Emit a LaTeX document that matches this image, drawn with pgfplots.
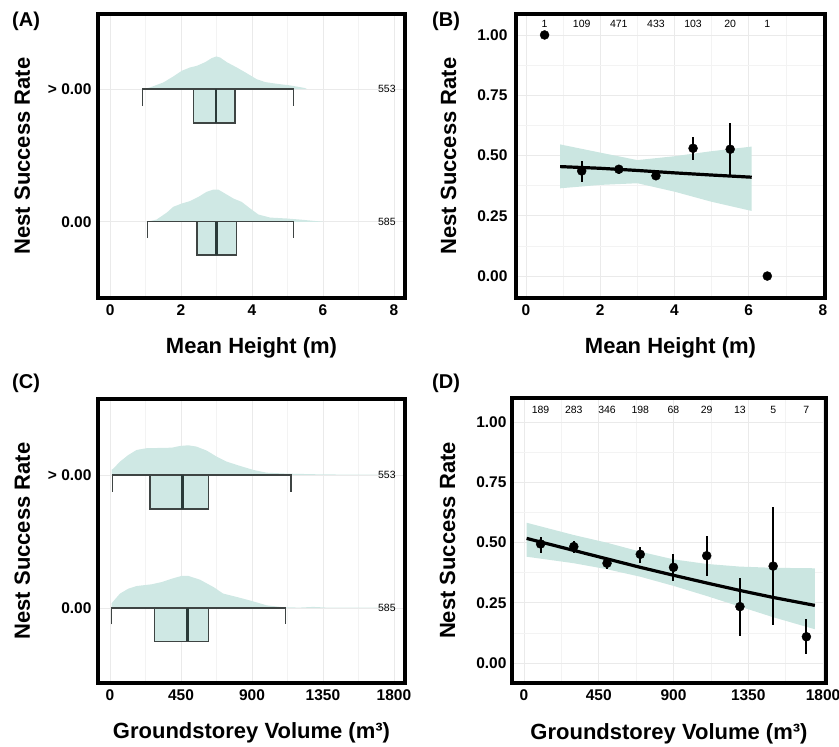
\documentclass[border=0pt]{standalone}
\usepackage{fontspec}
\setmainfont{Liberation Sans}
\usepackage{pgfplots}
\pgfplotsset{compat=1.18}

\definecolor{cloud}{HTML}{CFE8E4}
\definecolor{ribbon}{HTML}{CBE6E1}
\definecolor{boxline}{HTML}{3E4443}
\definecolor{medline}{HTML}{2A3A38}
\definecolor{gmaj}{HTML}{EAEAEA}
\definecolor{gmin}{HTML}{F3F3F3}

\newcommand{\ticksize}{\fontsize{15.5}{16}\selectfont\bfseries}
\newcommand{\labsize}{\fontsize{22}{24}\selectfont\bfseries}
\newcommand{\cntsize}{\fontsize{10.5}{12}\selectfont}
\newcommand{\tagsize}{\fontsize{20}{22}\selectfont\bfseries}

\pgfplotsset{
  panel/.style={
    scale only axis,
    axis line style={line width=4pt, black},
    major tick length=0pt, minor tick length=0pt,
    tick label style={font=\ticksize},
    major grid style={gmaj, line width=0.8pt},
    minor grid style={gmin, line width=0.6pt},
    label style={font=\labsize},
    xticklabel style={yshift=-3pt},
    clip=true,
  },
  whisk/.style={boxline, line width=1.3pt, line join=miter},
  boxp/.style={boxline, line width=1.3pt, fill=cloud, line join=miter},
  med/.style={medline, line width=2.6pt},
  fit/.style={black, line width=3.2pt},
  pts/.style={only marks, mark=*, mark size=4.5pt, black},
  errpts/.style={pts, error bars/.cd, y dir=both, y explicit,
    error bar style={line width=2pt, black}, error mark=none},
}

\begin{document}
\begin{tikzpicture}
\useasboundingbox (0,0) rectangle (839pt,747pt);

% (A) raincloud, mean height
\begin{axis}[panel, at={(98pt,449pt)}, width=307pt, height=284pt,
  xmin=-0.34, xmax=8.31, ymin=0.426, ymax=2.566,
  xtick={0,2,4,6,8}, xticklabels={0,2,4,6,8},
  minor xtick={1,3,5,7},
  ytick={1,2}, yticklabels={0.00,> 0.00},
  yticklabel style={xshift=-3pt},
  xmajorgrids, xminorgrids, ymajorgrids,
  xlabel={Mean Height (m)}, ylabel={Nest Success Rate},
  xlabel style={at={(rel axis cs:0.5,-0.197)}, anchor=base},
  ylabel style={at={(rel axis cs:-0.2215,0.5)}, anchor=base},
]
\addplot[draw=none, fill=cloud] coordinates {
  (0.91,2)(1.13,2.013)(1.50,2.050)(1.78,2.095)(2.02,2.138)(2.25,2.163)
  (2.44,2.175)(2.68,2.203)(2.86,2.233)(2.99,2.246)(3.10,2.238)(3.29,2.203)
  (3.57,2.163)(3.85,2.120)(4.13,2.075)(4.37,2.053)(4.70,2.040)(5.07,2.028)
  (5.35,2.015)(5.49,2.008)(5.55,2)};
\addplot[draw=none, fill=cloud] coordinates {
  (1.03,1)(1.31,1.017)(1.60,1.070)(1.78,1.113)(2.02,1.138)(2.25,1.156)
  (2.49,1.188)(2.72,1.226)(2.91,1.243)(3.05,1.243)(3.24,1.213)(3.48,1.175)
  (3.71,1.150)(3.95,1.100)(4.18,1.055)(4.51,1.032)(4.98,1.025)(5.35,1.017)
  (5.82,1.005)(6.00,1)};
\addplot[whisk] coordinates {(0.91,1.872)(0.91,2)(5.16,2)(5.16,1.872)};
\addplot[boxp] coordinates {(2.35,2)(3.52,2)(3.52,1.744)(2.35,1.744)} -- cycle;
\addplot[med] coordinates {(2.99,2)(2.99,1.744)};
\addplot[whisk] coordinates {(1.05,0.877)(1.05,1)(5.16,1)(5.16,0.877)};
\addplot[boxp] coordinates {(2.45,1)(3.56,1)(3.56,0.75)(2.45,0.75)} -- cycle;
\addplot[med] coordinates {(3.00,1)(3.00,0.75)};
\node[font=\cntsize] at (axis cs:7.8,2) {553};
\node[font=\cntsize] at (axis cs:7.8,1) {585};
\end{axis}

% (B) binned success, mean height
\begin{axis}[panel, at={(516pt,449pt)}, width=309pt, height=284pt,
  xmin=-0.27, xmax=8.054, ymin=-0.091, ymax=1.087,
  xtick={0,2,4,6,8}, xticklabels={0,2,4,6,8},
  minor xtick={1,3,5,7},
  ytick={0,0.25,0.5,0.75,1}, yticklabels={0.00,0.25,0.50,0.75,1.00},
  minor ytick={0.125,0.375,0.625,0.875},
  yticklabel style={xshift=-5pt},
  grid=both,
  xlabel={Mean Height (m)}, ylabel={Nest Success Rate},
  xlabel style={at={(rel axis cs:0.5,-0.197)}, anchor=base},
  ylabel style={at={(rel axis cs:-0.194,0.5)}, anchor=base},
]
\addplot[draw=none, fill=ribbon] coordinates {
  (0.92,0.546)(2,0.512)(3,0.481)(4,0.497)(5,0.518)(6.08,0.537)
  (6.08,0.270)(5,0.308)(4,0.350)(3,0.385)(2,0.378)(0.92,0.364)};
\addplot[fit] coordinates {(0.92,0.454)(2,0.447)(3,0.438)(4,0.428)(5,0.419)(6.08,0.410)};
\addplot[errpts] coordinates {
  (1.5,0.436) += (0,0.041) -= (0,0.046)
  (2.5,0.443) += (0,0.018) -= (0,0.020)
  (3.5,0.416) += (0,0.014) -= (0,0.016)
  (4.5,0.530) += (0,0.045) -= (0,0.049)
  (5.5,0.526) += (0,0.108) -= (0,0.107)};
\addplot[pts] coordinates {(0.5,1.0)(6.5,0.0)};
\node[font=\cntsize] at (axis cs:0.5,1.046) {1};
\node[font=\cntsize] at (axis cs:1.5,1.046) {109};
\node[font=\cntsize] at (axis cs:2.5,1.046) {471};
\node[font=\cntsize] at (axis cs:3.5,1.046) {433};
\node[font=\cntsize] at (axis cs:4.5,1.046) {103};
\node[font=\cntsize] at (axis cs:5.5,1.046) {20};
\node[font=\cntsize] at (axis cs:6.5,1.046) {1};
\end{axis}

% (C) raincloud, groundstorey volume
\begin{axis}[panel, at={(98pt,64pt)}, width=307pt, height=284pt,
  xmin=-76, xmax=1870, ymin=0.436, ymax=2.571,
  xtick={0,450,900,1350,1800}, xticklabels={0,450,900,1350,1800},
  minor xtick={225,675,1125,1575},
  ytick={1,2}, yticklabels={0.00,> 0.00},
  yticklabel style={xshift=-3pt},
  xmajorgrids, xminorgrids, ymajorgrids,
  xlabel={Groundstorey Volume (m³)}, ylabel={Nest Success Rate},
  xlabel style={at={(rel axis cs:0.5,-0.197)}, anchor=base},
  ylabel style={at={(rel axis cs:-0.2215,0.5)}, anchor=base},
]
\addplot[draw=none, fill=cloud] coordinates {
  (10,2)(10,2.040)(19,2.045)(63,2.100)(116,2.150)(169,2.188)(232,2.201)
  (317,2.203)(391,2.205)(444,2.218)(496,2.223)(549,2.213)(613,2.183)
  (676,2.138)(740,2.100)(824,2.068)(908,2.038)(993,2.017)(1120,2.010)
  (1310,2.005)(1458,2.003)(1800,2.002)(1800,2)};
\addplot[draw=none, fill=cloud] coordinates {
  (10,1)(10,1.035)(63,1.108)(116,1.145)(169,1.165)(264,1.178)(328,1.195)
  (391,1.220)(454,1.241)(496,1.241)(570,1.213)(655,1.158)(718,1.108)
  (803,1.083)(898,1.053)(993,1.020)(1099,1.005)(1204,1.003)(1289,1.008)
  (1373,1.003)(1458,1.002)(1800,1.002)(1800,1)};
\addplot[whisk] coordinates {(15,1.872)(15,2)(1147,2)(1147,1.872)};
\addplot[boxp] coordinates {(254,2)(623,2)(623,1.744)(254,1.744)} -- cycle;
\addplot[med] coordinates {(458,2)(458,1.744)};
\addplot[whisk] coordinates {(11,0.877)(11,1)(1113,1)(1113,0.877)};
\addplot[boxp] coordinates {(281,1)(625,1)(625,0.75)(281,0.75)} -- cycle;
\addplot[med] coordinates {(490,1)(490,0.75)};
\node[font=\cntsize] at (axis cs:1755,2) {553};
\node[font=\cntsize] at (axis cs:1755,1) {585};
\end{axis}

% (D) binned success, groundstorey volume
\begin{axis}[panel, at={(512pt,64pt)}, width=314pt, height=285pt,
  xmin=-72, xmax=1818, ymin=-0.083, ymax=1.0996,
  xtick={0,450,900,1350,1800}, xticklabels={0,450,900,1350,1800},
  minor xtick={225,675,1125,1575},
  ytick={0,0.25,0.5,0.75,1}, yticklabels={0.00,0.25,0.50,0.75,1.00},
  minor ytick={0.125,0.375,0.625,0.875},
  yticklabel style={xshift=-2pt},
  grid=both,
  xlabel={Groundstorey Volume (m³)}, ylabel={Nest Success Rate},
  xlabel style={at={(rel axis cs:0.5,-0.197)}, anchor=base},
  ylabel style={at={(rel axis cs:-0.1815,0.5)}, anchor=base},
]
\addplot[draw=none, fill=ribbon] coordinates {
  (16,0.582)(300,0.531)(500,0.499)(700,0.462)(900,0.430)(1100,0.411)
  (1300,0.400)(1500,0.395)(1751,0.393)
  (1751,0.140)(1500,0.190)(1300,0.234)(1100,0.278)(900,0.320)(700,0.358)
  (500,0.389)(300,0.414)(16,0.441)};
\addplot[fit] coordinates {(16,0.517)(300,0.467)(500,0.432)(700,0.397)(900,0.364)
  (1100,0.332)(1300,0.301)(1500,0.272)(1751,0.239)};
\addplot[errpts] coordinates {
  (100,0.494) += (0,0.030) -= (0,0.036)
  (300,0.483) += (0,0.024) -= (0,0.028)
  (500,0.414) += (0,0.013) -= (0,0.024)
  (700,0.451) += (0,0.029) -= (0,0.035)
  (900,0.397) += (0,0.055) -= (0,0.057)
  (1100,0.445) += (0,0.082) -= (0,0.084)
  (1300,0.234) += (0,0.117) -= (0,0.122)
  (1500,0.402) += (0,0.244) -= (0,0.244)
  (1700,0.109) += (0,0.072) -= (0,0.073)};
\node[font=\cntsize] at (axis cs:100,1.05) {189};
\node[font=\cntsize] at (axis cs:300,1.05) {283};
\node[font=\cntsize] at (axis cs:500,1.05) {346};
\node[font=\cntsize] at (axis cs:700,1.05) {198};
\node[font=\cntsize] at (axis cs:900,1.05) {68};
\node[font=\cntsize] at (axis cs:1100,1.05) {29};
\node[font=\cntsize] at (axis cs:1300,1.05) {13};
\node[font=\cntsize] at (axis cs:1500,1.05) {5};
\node[font=\cntsize] at (axis cs:1700,1.05) {7};
\end{axis}

\node[font=\tagsize, anchor=base west, inner sep=0pt] at (12pt,720pt) {(A)};
\node[font=\tagsize, anchor=base west, inner sep=0pt] at (432pt,720pt) {(B)};
\node[font=\tagsize, anchor=base west, inner sep=0pt] at (12pt,358pt) {(C)};
\node[font=\tagsize, anchor=base west, inner sep=0pt] at (432pt,358pt) {(D)};
\end{tikzpicture}
\end{document}
